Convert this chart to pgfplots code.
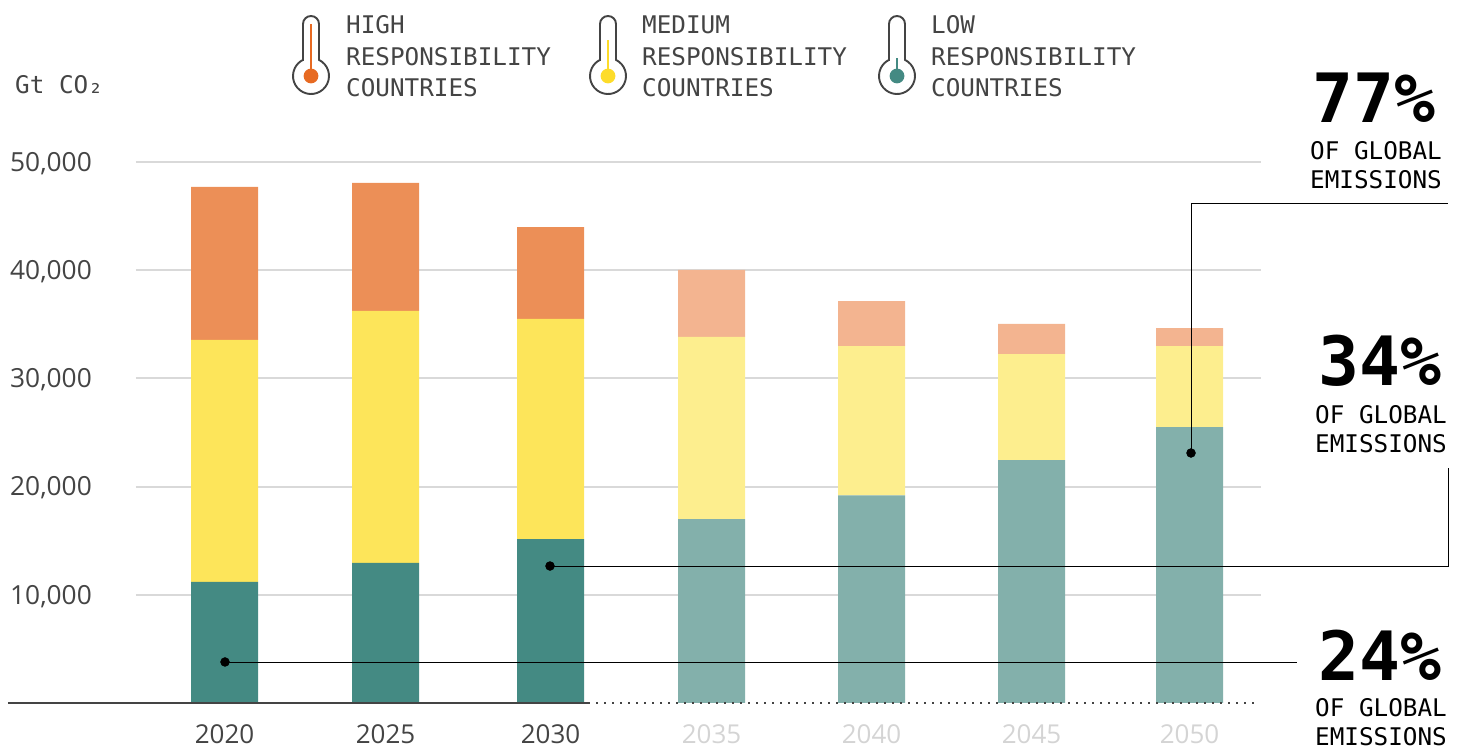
\documentclass[border=0pt]{standalone}
\usepackage{pgfplots}
\pgfplotsset{compat=1.18}
\usepackage{fontspec}
\setmainfont{Open Sans}
\newfontfamily\monof{DejaVu Sans Mono}
\definecolor{hi}{HTML}{EC8F57}
\definecolor{hif}{HTML}{F3B490}
\definecolor{hid}{HTML}{E76A22}
\definecolor{md}{HTML}{FDE55A}
\definecolor{mdd}{HTML}{FDDC2A}
\definecolor{mdf}{HTML}{FDEE8E}
\definecolor{lo}{HTML}{448A83}
\definecolor{lof}{HTML}{83B0AB}
\definecolor{ink}{HTML}{444444}
\definecolor{faint}{HTML}{D4D4D4}
\newcommand{\thermo}[3]{% x, colour, stem length
  \begin{scope}[shift={(#1pt,670pt)},x=1pt,y=1pt]
    \draw[ink,line width=1.9pt,fill=white] (-8,16.1) -- (-8,52) arc (180:0:8) -- (8,16.1) arc (63.6:-243.6:18) -- cycle;
    \draw[#2,line width=1.5pt] (0,0) -- (0,#3);
    \fill[#2] (0,0) circle (7.4);
  \end{scope}}
\begin{document}
\begin{tikzpicture}
\path[use as bounding box] (0,0) rectangle (1465pt,746pt);
\begin{axis}[
  at={(136pt,43pt)},anchor=south west,
  scale only axis,width=1125pt,height=541pt,
  xmin=136,xmax=1261,ymin=0,ymax=50000,
  clip=false,
  ybar stacked,bar width=67pt,
  axis line style={draw=none},
  major tick length=0pt,
  ytick={10000,20000,30000,40000,50000},
  scaled y ticks=false,
  yticklabel style={/pgf/number format/1000 sep={,},/pgf/number format/assume math mode=true,
    font=\fontsize{26.3}{30}\selectfont,color=ink,inner sep=0pt,anchor=east,xshift=-44pt,yshift=-1.5pt},
  ymajorgrids,
  grid style={color=black!15,line width=2pt},
  xtick={224.5,385.5,550.5,711.5,871.5,1031.5,1189.5},
  xticklabels={\textcolor{ink}{2020},\textcolor{ink}{2025},\textcolor{ink}{2030},\textcolor{faint}{2035},\textcolor{faint}{2040},\textcolor{faint}{2045},\textcolor{faint}{2050}},
  xticklabel style={font=\fontsize{26}{30}\selectfont,inner sep=0pt,anchor=center,yshift=-31pt},
]
% low (solid, then faded)
\addplot[fill=lo,draw=none] coordinates {(224.5,11200)(385.5,12950)(550.5,15150)(711.5,0)(871.5,0)(1031.5,0)(1189.5,0)};
\addplot[fill=lof,draw=none] coordinates {(224.5,0)(385.5,0)(550.5,0)(711.5,17000)(871.5,19200)(1031.5,22450)(1189.5,25500)};
% medium
\addplot[fill=md,draw=none] coordinates {(224.5,22350)(385.5,23280)(550.5,20350)(711.5,0)(871.5,0)(1031.5,0)(1189.5,0)};
\addplot[fill=mdf,draw=none] coordinates {(224.5,0)(385.5,0)(550.5,0)(711.5,16830)(871.5,13790)(1031.5,9800)(1189.5,7490)};
% high
\addplot[fill=hi,draw=none] coordinates {(224.5,14150)(385.5,11830)(550.5,8490)(711.5,0)(871.5,0)(1031.5,0)(1189.5,0)};
\addplot[fill=hif,draw=none] coordinates {(224.5,0)(385.5,0)(550.5,0)(711.5,6190)(871.5,4160)(1031.5,2780)(1189.5,1660)};
\end{axis}
\begin{axis}[
  at={(136pt,43pt)},anchor=south west,
  scale only axis,width=1125pt,height=541pt,
  xmin=136,xmax=1261,ymin=0,ymax=50000,
  clip=false,hide axis,
]
% baseline
\addplot[ink,line width=1.6pt,no marks] coordinates {(8,0)(590,0)};
\addplot[ink,line width=1.6pt,no marks,dash pattern=on 1.6pt off 6.4pt] coordinates {(596,0)(1255,0)};
% callouts
\addplot[black,line width=0.9pt,no marks] coordinates {(225,3790)(1297,3790)};
\addplot[black,line width=0.9pt,no marks] coordinates {(550,12660)(1448,12660)(1448,21720)};
\addplot[black,line width=0.9pt,no marks] coordinates {(1191,23105)(1191,46210)(1448,46210)};
\addplot[only marks,mark=*,mark size=4.5pt,mark options={fill=black,draw=none}] coordinates {(225,3790)(550,12660)(1191,23105)};
\end{axis}
\thermo{311}{hid}{52}
\thermo{608}{mdd}{36}
\thermo{897}{lo}{18}
\begin{scope}[x=1pt,y=-1pt,yshift=746pt]
\tikzset{mono/.style={font=\monof\fontsize{24.3}{28}\selectfont,inner sep=0pt,anchor=mid west},
         big/.style={font=\monof\bfseries\fontsize{68}{68}\selectfont,inner sep=0pt,anchor=center,text=black}}
\node[mono,text=ink] at (15,90.5) {Gt CO₂};
\foreach \x/\w in {346/HIGH,642/MEDIUM,931/LOW}{
  \node[mono,text=ink] at (\x,31) {\w};
  \node[mono,text=ink] at (\x,62.5) {RESPONSIBILITY};
  \node[mono,text=ink] at (\x,94) {COUNTRIES};
}
\node[big] at (1374,98) {77\%};
\node[mono,text=black] at (1310,157) {OF GLOBAL};
\node[mono,text=black] at (1310,186) {EMISSIONS};
\node[big] at (1380,361) {34\%};
\node[mono,text=black] at (1315,421) {OF GLOBAL};
\node[mono,text=black] at (1315,450) {EMISSIONS};
\node[big] at (1380,655) {24\%};
\node[mono,text=black] at (1315,714) {OF GLOBAL};
\node[mono,text=black] at (1315,743) {EMISSIONS};
\end{scope}
\end{tikzpicture}
\end{document}
